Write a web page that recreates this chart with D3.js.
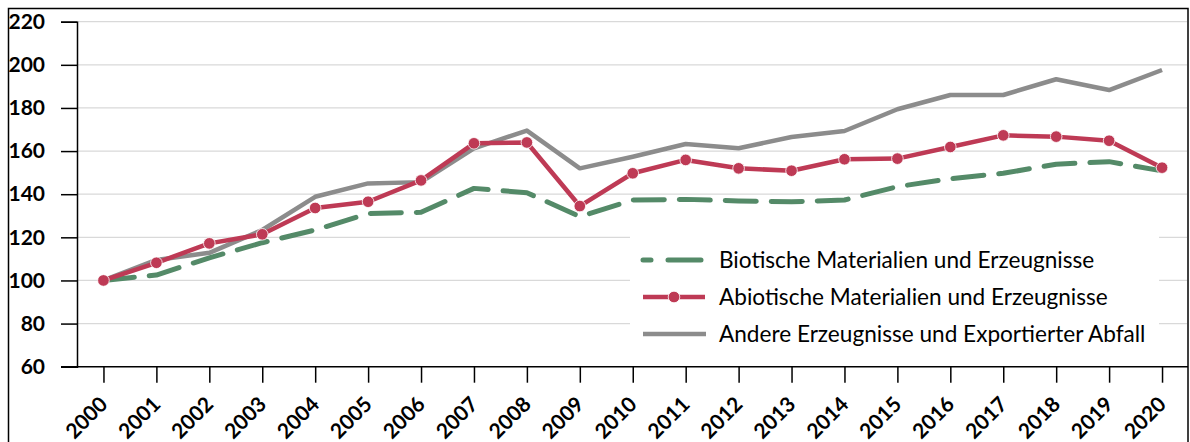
<!DOCTYPE html>
<html>
<head>
<meta charset="utf-8">
<script src="https://cdn.jsdelivr.net/npm/d3@7"></script>
<style>
  html, body { margin: 0; padding: 0; background: #fff; }
  svg { display: block; }
</style>
</head>
<body>
<svg id="chart" width="1190" height="442"></svg>
<script>
const years = ["2000","2001","2002","2003","2004","2005","2006","2007","2008","2009","2010",
               "2011","2012","2013","2014","2015","2016","2017","2018","2019","2020"];
const biotisch = [100, 102.5, 110.5, 117.5, 123.4, 131.0, 131.6, 142.7, 140.7, 129.6, 137.3,
                  137.6, 136.9, 136.5, 137.3, 143.5, 147.2, 149.7, 153.9, 155.1, 150.8];
const abiotisch = [100, 108.2, 117.2, 121.4, 133.6, 136.5, 146.4, 163.6, 164.0, 134.5, 149.7,
                   155.9, 152.0, 150.9, 156.2, 156.5, 161.9, 167.3, 166.7, 164.8, 152.3];
const andere = [100, 109.5, 112.8, 123.4, 138.8, 145.0, 145.6, 161.3, 169.5, 152.0, 157.4,
                163.3, 161.3, 166.5, 169.3, 179.4, 186.0, 186.0, 193.3, 188.3, 197.6];
const yTicks = [60, 80, 100, 120, 140, 160, 180, 200, 220];
const legendLabels = ["Biotische Materialien und Erzeugnisse",
                      "Abiotische Materialien und Erzeugnisse",
                      "Andere Erzeugnisse und Exportierter Abfall"];

const colGreen = "#548a68", colRed = "#be3a55", colGray = "#8c8c8c";
const font = "Lato, 'Open Sans', sans-serif";

const svg = d3.select("#chart");
const x = d3.scalePoint().domain(years).range([77, 1188.5]).padding(0.5);
const y = d3.scaleLinear().domain([60, 220]).range([366.7, 21.7]);

// outer border
svg.append("rect").attr("x", 8.5).attr("y", 8.5).attr("width", 1179.5).attr("height", 440)
  .attr("fill", "none").attr("stroke", "#000").attr("stroke-width", 1.5);

// gridlines
svg.append("g").selectAll("line").data(yTicks.filter(d => d > 60)).join("line")
  .attr("x1", 77).attr("x2", 1187).attr("y1", d => y(d)).attr("y2", d => y(d))
  .attr("stroke", "#d9d9d9").attr("stroke-width", 1.3);

// y axis
const yAxis = svg.append("g").attr("transform", "translate(77,0)")
  .call(d3.axisLeft(y).tickValues(yTicks).tickSize(16).tickPadding(16));
yAxis.select(".domain").attr("stroke", "#000").attr("stroke-width", 1.5);
yAxis.selectAll(".tick line").attr("stroke", "#000").attr("stroke-width", 1.5);
yAxis.selectAll(".tick text").attr("font-family", font).attr("font-weight", "bold")
  .attr("font-size", 21).attr("fill", "#000");

// x axis
const xAxis = svg.append("g").attr("transform", `translate(0,${y(60)})`)
  .call(d3.axisBottom(x).tickSize(16).tickSizeOuter(0));
xAxis.select(".domain").attr("d", `M61,0H1188`).attr("stroke", "#000").attr("stroke-width", 1.5);
xAxis.selectAll(".tick line").attr("stroke", "#000").attr("stroke-width", 1.5);
xAxis.selectAll(".tick text").attr("font-family", font).attr("font-weight", "bold")
  .attr("font-size", 21).attr("fill", "#000")
  .attr("text-anchor", "end").attr("dy", null).attr("y", 0)
  .attr("transform", "translate(-7,27) rotate(-45)")
  .attr("dominant-baseline", "hanging");

// lines
const line = vals => d3.line().x((d, i) => x(years[i])).y(d => y(d))(vals);

svg.append("path").attr("d", line(andere)).attr("fill", "none")
  .attr("stroke", colGray).attr("stroke-width", 4.5).attr("stroke-linejoin", "round");
svg.append("path").attr("d", line(biotisch)).attr("fill", "none")
  .attr("stroke", colGreen).attr("stroke-width", 5).attr("stroke-dasharray", "31,15")
  .attr("stroke-linecap", "round").attr("stroke-linejoin", "round");
svg.append("path").attr("d", line(abiotisch)).attr("fill", "none")
  .attr("stroke", colRed).attr("stroke-width", 4.5).attr("stroke-linejoin", "round");
svg.append("g").selectAll("circle").data(abiotisch).join("circle")
  .attr("cx", (d, i) => x(years[i])).attr("cy", d => y(d)).attr("r", 5.8)
  .attr("fill", colRed).attr("stroke", "#fff").attr("stroke-width", 0.8);

// legend
svg.append("rect").attr("x", 630).attr("y", 228).attr("width", 529).attr("height", 138)
  .attr("fill", "#fff");
const lg = svg.append("g");
const rowsY = [260, 297, 334];
lg.append("line").attr("x1", 643).attr("x2", 705).attr("y1", rowsY[0]).attr("y2", rowsY[0])
  .attr("stroke", colGreen).attr("stroke-width", 5).attr("stroke-linecap", "round")
  .attr("stroke-dasharray", "8,17,33,100");
lg.append("line").attr("x1", 643).attr("x2", 705).attr("y1", rowsY[1]).attr("y2", rowsY[1])
  .attr("stroke", colRed).attr("stroke-width", 4.5);
lg.append("circle").attr("cx", 674).attr("cy", rowsY[1]).attr("r", 5.8).attr("fill", colRed)
  .attr("stroke", "#fff").attr("stroke-width", 0.8);
lg.append("line").attr("x1", 643).attr("x2", 706).attr("y1", rowsY[2]).attr("y2", rowsY[2])
  .attr("stroke", colGray).attr("stroke-width", 4.5);
lg.selectAll("text").data(legendLabels).join("text")
  .attr("x", 719).attr("y", (d, i) => rowsY[i]).attr("dy", "0.35em")
  .attr("font-family", font).attr("font-size", 22.6).attr("fill", "#000")
  .text(d => d);
</script>
</body>
</html>
